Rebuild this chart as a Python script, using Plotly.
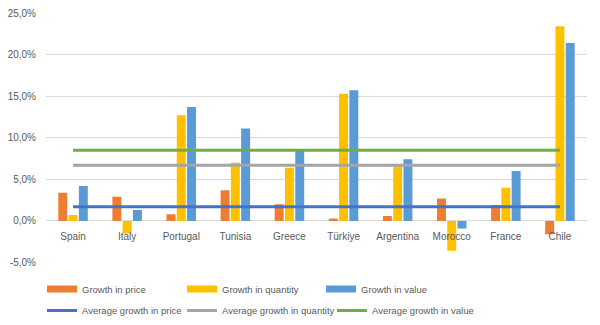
import plotly.graph_objects as go

countries = ["Spain", "Italy", "Portugal", "Tunisia", "Greece", "Türkiye",
             "Argentina", "Morocco", "France", "Chile"]
growth_price = [3.4, 2.9, 0.8, 3.7, 2.0, 0.3, 0.6, 2.7, 1.9, -1.6]
growth_quantity = [0.7, -1.5, 12.7, 7.0, 6.4, 15.3, 6.8, -3.6, 4.0, 23.4]
growth_value = [4.2, 1.3, 13.7, 11.1, 8.4, 15.7, 7.4, -0.9, 6.0, 21.4]
avg_price = 1.7
avg_quantity = 6.7
avg_value = 8.5
y_ticks = [-5, 0, 5, 10, 15, 20, 25]
y_tick_labels = ["-5,0%", "0,0%", "5,0%", "10,0%", "15,0%", "20,0%", "25,0%"]

FONT = "Liberation Sans, Arial"
TXT = "#595959"
FS = 10
LFS = 9.5

bar_series = [
    ("Growth in price", growth_price, "#ED7D31"),
    ("Growth in quantity", growth_quantity, "#FFC000"),
    ("Growth in value", growth_value, "#5B9BD5"),
]
line_series = [
    ("Average growth in price", avg_price, "#4472C4"),
    ("Average growth in quantity", avg_quantity, "#A5A5A5"),
    ("Average growth in value", avg_value, "#70AD47"),
]

H, W = 325, 600
mt, mb = 13, 0
paper_h = H - mt - mb
plot_bottom_px = 263.3
d0 = (H - mb - plot_bottom_px) / paper_h
zero_pos = d0 + (5 / 30) * (1 - d0)
row1 = (H - mb - 289) / paper_h
row2 = (H - mb - 311) / paper_h
row1_x = [42, 182, 321]
row2_x = [42, 182, 332]

fig = go.Figure()
legend_layout = {}
for i, (name, vals, col) in enumerate(bar_series):
    fig.add_trace(go.Bar(x=countries, y=vals, name=name, marker_color=col,
                         marker_line_width=0, showlegend=False, legendgroup=name))
for i, (name, v, col) in enumerate(line_series):
    lid = "legend%d" % (i + 4)
    fig.add_trace(go.Scatter(x=countries, y=[v] * len(countries), name=name,
                             mode="lines", line=dict(color=col, width=3),
                             legend=lid))
    legend_layout[lid] = dict(orientation="h", x=row2_x[i] / W, xanchor="left",
                              y=row2, yanchor="middle", font=dict(size=LFS, color=TXT),
                              bgcolor="rgba(0,0,0,0)")
# legend entries for bars (patch style)
for i, (name, vals, col) in enumerate(bar_series):
    lid = "legend" if i == 0 else "legend%d" % (i + 1)
    fig.add_trace(go.Scatter(x=[None], y=[None], name=name, mode="lines",
                             line=dict(color=col, width=7), legendgroup=name,
                             legend=lid))
    legend_layout[lid] = dict(orientation="h", x=row1_x[i] / W, xanchor="left",
                              y=row1, yanchor="middle", font=dict(size=LFS, color=TXT),
                              bgcolor="rgba(0,0,0,0)")

fig.update_layout(
    width=W, height=H,
    margin=dict(l=0, r=0, t=mt, b=mb),
    paper_bgcolor="white", plot_bgcolor="white",
    font=dict(family=FONT, size=FS, color=TXT),
    barmode="group", bargap=0.43, bargroupgap=0.13,
    showlegend=True,
    **legend_layout,
)
fig.update_yaxes(domain=[d0, 1], range=[-5, 25], tickvals=y_ticks, ticktext=y_tick_labels,
                 showgrid=True, gridcolor="#D9D9D9", gridwidth=1,
                 zeroline=True, zerolinecolor="#D9D9D9", zerolinewidth=1,
                 ticklabelstandoff=9, tickfont=dict(size=FS, color=TXT),
                 showline=False, fixedrange=True, automargin=False)
fig.update_xaxes(domain=[46 / W, 587 / W], anchor="free", position=zero_pos,
                 showgrid=False, showline=False,
                 ticks="", tickfont=dict(size=FS, color=TXT), ticklabelstandoff=8,
                 automargin=False)

fig.write_html("out.html")
